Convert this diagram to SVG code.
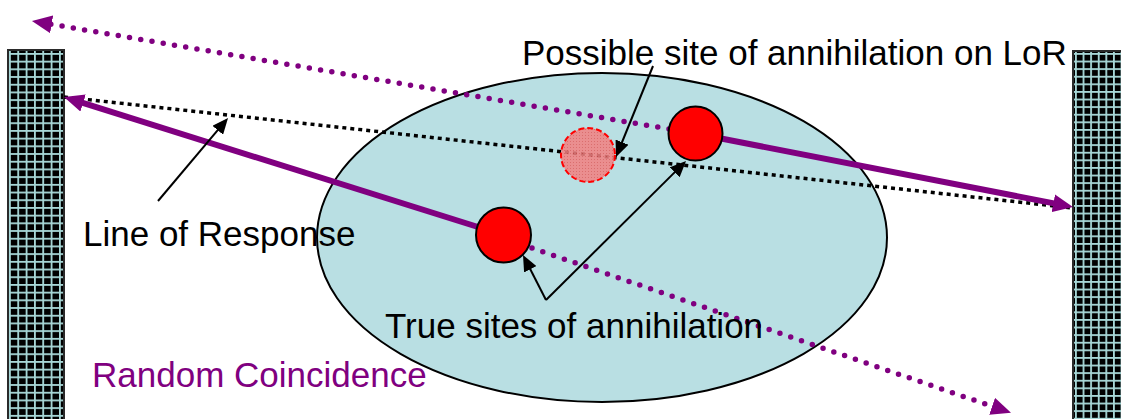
<svg xmlns="http://www.w3.org/2000/svg" width="1121" height="419" viewBox="0 0 1121 419">
<style>
.txt{font-family:"Liberation Sans",Arial,sans-serif;font-size:35px;fill:#000}
.rc{fill:#800080}
.det{stroke:#2a2a2a;stroke-width:2}
.solid{stroke:#800080;stroke-width:6;fill:none}
.pdot{stroke:#800080;stroke-width:5.5;stroke-dasharray:0 11.4;stroke-linecap:round;fill:none}
.lor{stroke:#000;stroke-width:3.5;stroke-dasharray:4 4;fill:none}
.ann{stroke:#000;stroke-width:2;fill:none}
.site{fill:#ff0000;stroke:#000;stroke-width:2}
</style>
<defs>
<pattern id="gridL" patternUnits="userSpaceOnUse" x="9" y="53" width="8.33" height="7.7">
<rect width="8.33" height="7.7" fill="#000"/>
<rect x="0" y="0" width="1.8" height="7.7" fill="#a8d8d8"/>
<rect x="0" y="0" width="8.33" height="1.8" fill="#a8d8d8"/>
</pattern>
<pattern id="gridR" patternUnits="userSpaceOnUse" x="1075" y="53" width="7.6" height="7.6">
<rect width="7.6" height="7.6" fill="#000"/>
<rect x="0" y="0" width="1.8" height="7.6" fill="#a8d8d8"/>
<rect x="0" y="0" width="7.6" height="1.8" fill="#a8d8d8"/>
</pattern>
<pattern id="pinkdots" patternUnits="userSpaceOnUse" width="3" height="3">
<rect width="3" height="3" fill="#f28080"/>
<rect width="1" height="1" fill="#e05a5a"/>
</pattern>
<marker id="pArrow" markerUnits="userSpaceOnUse" markerWidth="20" markerHeight="18" viewBox="0 0 20 18" refX="2" refY="9" orient="auto">
<path d="M0,0 L20,9 L0,18 z" fill="#800080"/>
</marker>
<marker id="kArrow" markerUnits="userSpaceOnUse" markerWidth="16" markerHeight="14" viewBox="0 0 16 14" refX="2" refY="7" orient="auto">
<path d="M0,0 L16,7 L0,14 z" fill="#000"/>
</marker>
</defs>
<rect width="1121" height="419" fill="#fff"/>
<g id="detector-left"><rect class="det" x="8" y="50" width="56" height="375" fill="url(#gridL)"/></g>
<g id="detector-right"><rect class="det" x="1073" y="51" width="54" height="375" fill="url(#gridR)"/></g>
<g id="body"><ellipse cx="602" cy="237.5" rx="285" ry="164.5" fill="#b9dfe3" stroke="#000" stroke-width="2"/></g>
<g id="connectors">
<line class="lor" x1="64" y1="97" x2="1073" y2="208"/>
<line class="solid" x1="503.5" y1="235" x2="81.2" y2="102.4" marker-end="url(#pArrow)"/>
<line class="solid" x1="695.5" y1="133.5" x2="1055.3" y2="203.6" marker-end="url(#pArrow)"/>
<line class="pdot" x1="669" y1="129" x2="49.7" y2="24" marker-end="url(#pArrow)"/>
<line class="pdot" x1="532" y1="248" x2="994" y2="407" marker-end="url(#pArrow)"/>
</g>
<g id="possible-site"><circle cx="588" cy="155" r="27" fill="url(#pinkdots)" fill-opacity="0.85" stroke="#ff0000" stroke-width="2" stroke-dasharray="6 3"/></g>
<g id="site-upper"><circle class="site" cx="695.5" cy="133.5" r="27"/></g>
<g id="site-lower"><circle class="site" cx="503.5" cy="235" r="27.5"/></g>
<g id="annotations">
<line class="ann" x1="158" y1="201" x2="219" y2="128.7" marker-end="url(#kArrow)"/>
<line class="ann" x1="653" y1="66" x2="621.3" y2="144" marker-end="url(#kArrow)"/>
<line class="ann" x1="546" y1="300" x2="529.4" y2="267.5" marker-end="url(#kArrow)"/>
<line class="ann" x1="546" y1="300" x2="676.1" y2="170.9" marker-end="url(#kArrow)"/>
</g>
<g id="labels">
<text class="txt" x="522" y="65">Possible site of annihilation on LoR</text>
<text class="txt" x="83" y="246">Line of Response</text>
<text class="txt" x="385" y="338">True sites of annihilation</text>
<text class="txt rc" x="92" y="387">Random Coincidence</text>
</g>
</svg>
